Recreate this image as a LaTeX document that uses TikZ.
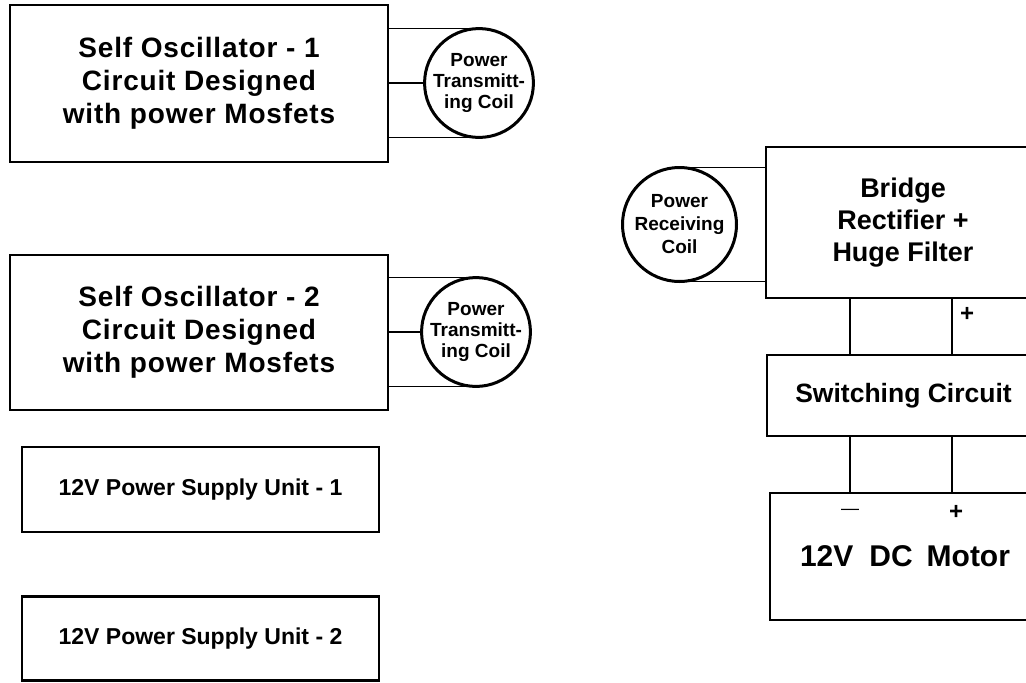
\documentclass[tikz,border=0pt]{standalone}
\usepackage{fontspec}
\setmainfont{Liberation Sans}
\newfontfamily\sofont{Liberation Sans}[LetterSpace=3]
\begin{document}
\begin{tikzpicture}[x=1pt,y=-1pt,
  box/.style={draw, line width=2.8pt, inner sep=0pt, outer sep=0pt, align=center},
  coil/.style={circle, draw, line width=3pt, inner sep=0pt, outer sep=0pt, align=center,
    font=\bfseries\fontsize{19}{21}\selectfont},
  wire/.style={line width=1.4pt},
  sotext/.style={font=\sofont\bfseries\fontsize{28}{33}\selectfont},
  pstext/.style={font=\bfseries\fontsize{23}{27}\selectfont},
  sign/.style={inner sep=0pt, font=\bfseries\fontsize{24}{26}\selectfont}]
\fill[white] (0,0) rectangle (1026,683);
\clip (0,0) rectangle (1026,683);
% left side
\node[box, sotext, minimum width=378pt, minimum height=157pt] (so1) at (199,83.5)
  {Self Oscillator - 1\\Circuit Designed\\with power Mosfets};
\node[box, sotext, minimum width=378pt, minimum height=155pt] (so2) at (199,332.5)
  {Self Oscillator - 2\\Circuit Designed\\with power Mosfets};
\node[coil, minimum size=108pt] (tx1) at (479,83) {Power\\Transmitt-\\ing Coil};
\node[coil, minimum size=106pt] (tx2) at (476,332) {Power\\Transmitt-\\ing Coil};
\draw[wire] (so1.east |- tx1.north) -- (tx1.north);
\draw[wire] (so1.east |- tx1.west) -- (tx1.west);
\draw[wire] (so1.east |- tx1.south) -- (tx1.south);
\draw[wire] (so2.east |- tx2.north) -- (tx2.north);
\draw[wire] (so2.east |- tx2.west) -- (tx2.west);
\draw[wire] (so2.east |- tx2.south) -- (tx2.south);
\node[box, pstext, minimum width=357pt, minimum height=85pt] (ps1) at (200.5,489.5)
  {12V Power Supply Unit - 1};
\node[box, pstext, minimum width=357pt, minimum height=84pt] (ps2) at (200.5,638.5)
  {12V Power Supply Unit - 2};
% right side
\node[box, font=\bfseries\fontsize{27}{32}\selectfont, minimum width=274pt, minimum height=151pt] (br) at (903,222.5)
  {Bridge\\Rectifier +\\Huge Filter};
\node[coil, minimum size=114pt, font=\bfseries\fontsize{19}{23}\selectfont] (rx) at (679.5,224.5)
  {Power\\Receiving\\Coil};
\draw[wire] (rx.north) -- (br.west |- rx.north);
\draw[wire] (rx.south) -- (br.west |- rx.south);
\node[box, font=\bfseries\fontsize{26.5}{30}\selectfont, minimum width=273pt, minimum height=81pt] (sw) at (903.5,395.5)
  {Switching Circuit};
\node[box, font=\bfseries\fontsize{30}{34}\selectfont, minimum width=270pt, minimum height=127pt] (mo) at (905,556.5)
  {12V\hspace{16pt}DC\hspace{14pt}Motor};
\coordinate (xa) at (850,0);
\coordinate (xb) at (952,0);
\draw[wire] (br.south -| xa) -- (sw.north -| xa);
\draw[wire] (br.south -| xb) -- (sw.north -| xb);
\draw[wire] (sw.south -| xa) -- (mo.north -| xa);
\draw[wire] (sw.south -| xb) -- (mo.north -| xb);
\node[sign] (p1) at (967,314) {+};
\node[inner sep=0pt, font=\fontsize{18}{20}\selectfont] (m1) at (850,512) {—};
\node[sign] (p2) at (956,512) {+};
\end{tikzpicture}
\end{document}
